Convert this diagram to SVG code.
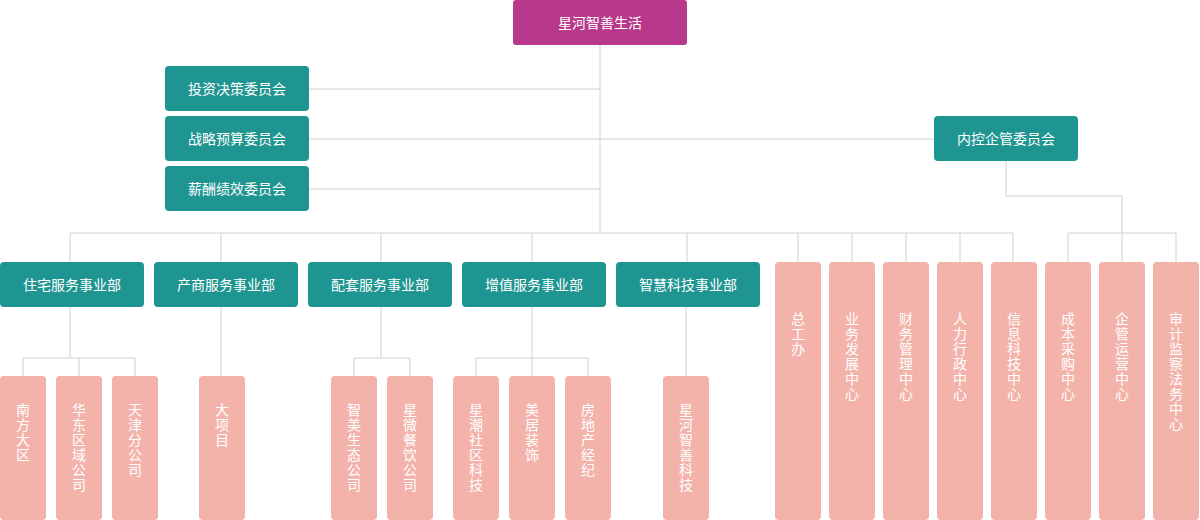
<svg xmlns="http://www.w3.org/2000/svg" width="1200" height="520" viewBox="0 0 1200 520">
<style>
text{font-family:"Noto Sans CJK SC","Noto Sans",sans-serif;fill:#fff;font-size:14px;text-anchor:middle}
.root{fill:#b8388b}.teal{fill:#1f9591}.pink{fill:#f3b3ab}
.c{stroke:#d0d0d0;stroke-width:1;fill:none}
.v{writing-mode:vertical-rl;text-anchor:start;letter-spacing:1px}
</style>
<g id="connectors">
<path class="c" d="M600 45V233M309 89H600M309 139H934M309 189H600M1006 161V196H1122V233M70 233H1013M70 233V262M221 233V262M381 233V262M532 233V262M687 233V262M798 233V262M852 233V262M906 233V262M960 233V262M1013 233V262M1068 233H1176M1068 233V262M1122 233V262M1176 233V262"/>
<path class="c" d="M70 307V358M23 358H135M23 358V376M79 358V376M135 358V376M221 307V376M381 307V358M354 358H410M354 358V376M410 358V376M532 307V358M476 358H588M476 358V376M532 358V376M588 358V376M686 307V376"/>
</g>
<g id="root"><rect class="root" x="513" y="0" width="174" height="45" rx="3"/><text x="600" y="28">星河智善生活</text></g>
<g id="c1"><rect class="teal" x="165" y="66" width="144" height="45" rx="4"/><text x="237" y="94">投资决策委员会</text></g>
<g id="c2"><rect class="teal" x="165" y="116" width="144" height="45" rx="4"/><text x="237" y="144">战略预算委员会</text></g>
<g id="c3"><rect class="teal" x="165" y="166" width="144" height="45" rx="4"/><text x="237" y="194">薪酬绩效委员会</text></g>
<g id="c4"><rect class="teal" x="934" y="116" width="144" height="45" rx="4"/><text x="1006" y="144">内控企管委员会</text></g>
<g id="d1"><rect class="teal" x="0" y="262" width="144" height="45" rx="4"/><text x="72" y="290">住宅服务事业部</text></g>
<g id="d2"><rect class="teal" x="154" y="262" width="144" height="45" rx="4"/><text x="226" y="290">产商服务事业部</text></g>
<g id="d3"><rect class="teal" x="308" y="262" width="144" height="45" rx="4"/><text x="380" y="290">配套服务事业部</text></g>
<g id="d4"><rect class="teal" x="462" y="262" width="144" height="45" rx="4"/><text x="534" y="290">增值服务事业部</text></g>
<g id="d5"><rect class="teal" x="616" y="262" width="144" height="45" rx="4"/><text x="688" y="290">智慧科技事业部</text></g>
<g id="p1"><rect class="pink" x="775" y="262" width="46" height="258" rx="4"/><text class="v" x="798" y="312">总工办</text></g>
<g id="p2"><rect class="pink" x="829" y="262" width="46" height="258" rx="4"/><text class="v" x="852" y="312">业务发展中心</text></g>
<g id="p3"><rect class="pink" x="883" y="262" width="46" height="258" rx="4"/><text class="v" x="906" y="312">财务管理中心</text></g>
<g id="p4"><rect class="pink" x="937" y="262" width="46" height="258" rx="4"/><text class="v" x="960" y="312">人力行政中心</text></g>
<g id="p5"><rect class="pink" x="991" y="262" width="46" height="258" rx="4"/><text class="v" x="1014" y="312">信息科技中心</text></g>
<g id="p6"><rect class="pink" x="1045" y="262" width="46" height="258" rx="4"/><text class="v" x="1068" y="312">成本采购中心</text></g>
<g id="p7"><rect class="pink" x="1099" y="262" width="46" height="258" rx="4"/><text class="v" x="1122" y="312">企管运营中心</text></g>
<g id="p8"><rect class="pink" x="1153" y="262" width="46" height="258" rx="4"/><text class="v" x="1176" y="312">审计监察法务中心</text></g>
<g id="s1"><rect class="pink" x="0" y="376" width="46" height="144" rx="4"/><text class="v" x="23" y="403">南方大区</text></g>
<g id="s2"><rect class="pink" x="56" y="376" width="46" height="144" rx="4"/><text class="v" x="79" y="403">华东区域公司</text></g>
<g id="s3"><rect class="pink" x="112" y="376" width="46" height="144" rx="4"/><text class="v" x="135" y="403">天津分公司</text></g>
<g id="s4"><rect class="pink" x="199" y="376" width="46" height="144" rx="4"/><text class="v" x="222" y="403">大项目</text></g>
<g id="s5"><rect class="pink" x="331" y="376" width="46" height="144" rx="4"/><text class="v" x="354" y="403">智美生态公司</text></g>
<g id="s6"><rect class="pink" x="387" y="376" width="46" height="144" rx="4"/><text class="v" x="410" y="403">星微餐饮公司</text></g>
<g id="s7"><rect class="pink" x="453" y="376" width="46" height="144" rx="4"/><text class="v" x="476" y="403">星潮社区科技</text></g>
<g id="s8"><rect class="pink" x="509" y="376" width="46" height="144" rx="4"/><text class="v" x="532" y="403">美居装饰</text></g>
<g id="s9"><rect class="pink" x="565" y="376" width="46" height="144" rx="4"/><text class="v" x="588" y="403">房地产经纪</text></g>
<g id="s10"><rect class="pink" x="663" y="376" width="46" height="144" rx="4"/><text class="v" x="686" y="403">星河智善科技</text></g>
</svg>
